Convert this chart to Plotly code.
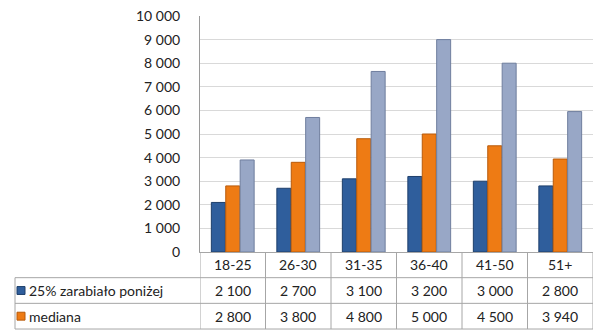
import plotly.graph_objects as go

categories = ["18-25", "26-30", "31-35", "36-40", "41-50", "51+"]
series_names = ["25% zarabiało poniżej", "mediana", "25% zarabiało powyżej"]
low_values = [2100, 2700, 3100, 3200, 3000, 2800]
median_values = [2800, 3800, 4800, 5000, 4500, 3940]
high_values = [3900, 5700, 7650, 9000, 8000, 5950]
y_ticks = list(range(0, 10001, 1000))
table_rows = 2  # rows of the data table visible in the picture

colors = ["#2F5E9C", "#EE7B14", "#98A7C6"]
edge = ["#1E3F6B", "#B85A0A", "#6F7E9E"]

W, H = 600, 330
ML, MR, MT, MB = 200, 7, 13, 78
PH = H - MT - MB
PW = W - ML - MR
ROW = 26
FONT = "Lato"
GRID = "#A6A6A6"

def py(px_from_top):
    return (H - MB - px_from_top) / PH

def pxp(xpix):
    return (xpix - ML) / PW

def fmt(v):
    return f"{v:,}".replace(",", " ")

all_vals = [low_values, median_values, high_values]

fig = go.Figure()
for name, vals, c, e in zip(series_names, all_vals, colors, edge):
    fig.add_trace(go.Bar(x=categories, y=vals, name=name,
                         marker=dict(color=c, line=dict(color=e, width=1)), showlegend=False))

shapes = []
annotations = []
top = H - MB
n = len(categories)
nrows = table_rows + 1
for r in range(1, nrows + 1):
    yp = py(top + r * ROW)
    shapes.append(dict(type="line", xref="x", yref="paper", x0=-0.5, x1=n - 0.5, y0=yp, y1=yp,
                       line=dict(color=GRID, width=1)))
    shapes.append(dict(type="line", xref="paper", yref="paper", x0=pxp(15), x1=0, y0=yp, y1=yp,
                       line=dict(color=GRID, width=1)))
shapes.append(dict(type="line", xref="paper", yref="paper", x0=pxp(15), x1=pxp(15),
                   y0=py(top + ROW), y1=py(top + nrows * ROW), line=dict(color=GRID, width=1)))
for i in range(n + 1):
    shapes.append(dict(type="line", xref="x", yref="paper", x0=i - 0.5, x1=i - 0.5,
                       y0=py(top), y1=py(top + nrows * ROW), line=dict(color=GRID, width=1)))

for c in categories:
    annotations.append(dict(x=c, y=py(top + ROW / 2), xref="x", yref="paper", text=c, showarrow=False,
                            font=dict(family=FONT, size=14, color="#222"), xanchor="center", yanchor="middle"))
for r in range(table_rows):
    name, vals = series_names[r], all_vals[r]
    yc = py(top + ROW * (r + 1) + ROW / 2)
    for c, v in zip(categories, vals):
        annotations.append(dict(x=c, y=yc, xref="x", yref="paper", text=fmt(v), showarrow=False,
                                font=dict(family=FONT, size=14, color="#222"), xanchor="center", yanchor="middle"))
    annotations.append(dict(x=pxp(27), y=yc, xref="paper", yref="paper", text=name, showarrow=False,
                            font=dict(family=FONT, size=14, color="#222"), xanchor="left", yanchor="middle"))
    shapes.append(dict(type="rect", xref="paper", yref="paper", x0=pxp(17), x1=pxp(25),
                       y0=yc - 4 / PH, y1=yc + 4 / PH, fillcolor=colors[r], line=dict(color=edge[r], width=1)))

fig.update_layout(
    width=W, height=H,
    margin=dict(l=ML, r=MR, t=MT, b=MB),
    paper_bgcolor="white", plot_bgcolor="white",
    separators=", ",
    barmode="group", bargap=0.34, bargroupgap=0.03,
    xaxis=dict(showticklabels=False, showgrid=False, showline=True, linecolor=GRID, zeroline=False,
               range=[-0.5, n - 0.5]),
    yaxis=dict(range=[0, 10000], tickvals=y_ticks, tickformat=",d", showgrid=True, gridcolor="#D9D9D9",
               showline=True, linecolor="#9A9A9A", zeroline=False, ticks="", ticklabelstandoff=16,
               tickfont=dict(family=FONT, size=14, color="#222")),
    shapes=shapes, annotations=annotations,
)
fig.write_html("out.html")
